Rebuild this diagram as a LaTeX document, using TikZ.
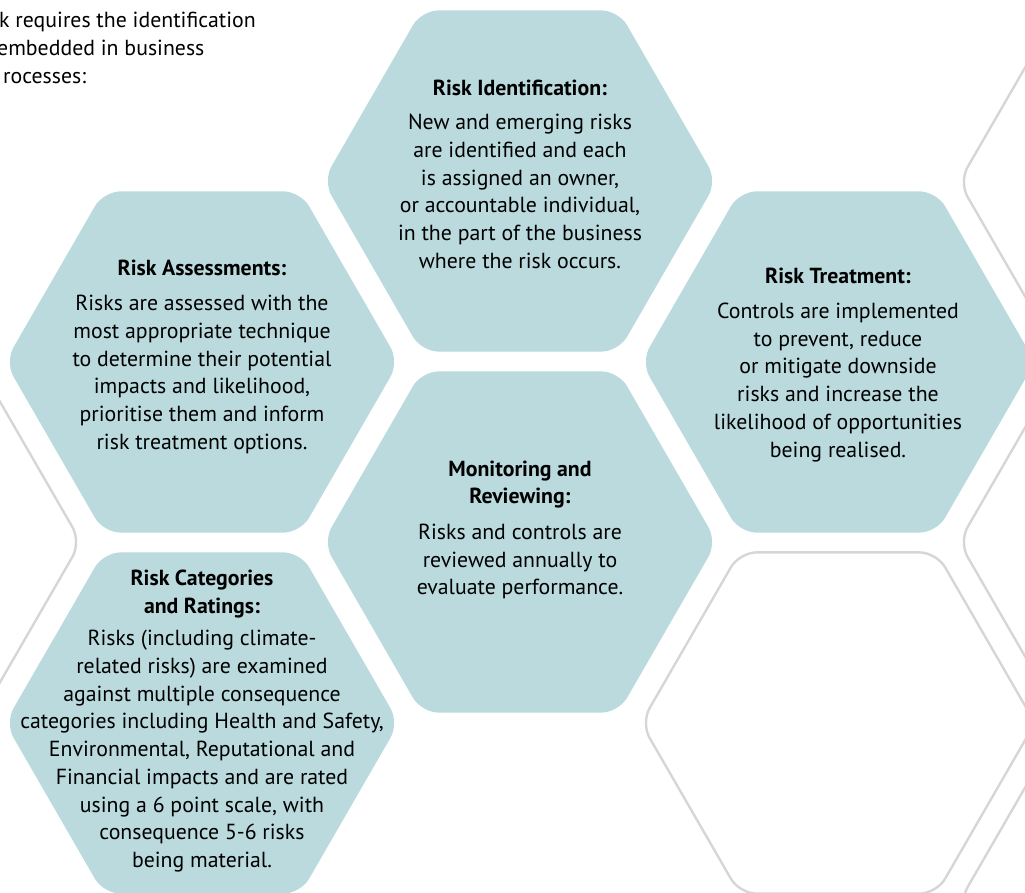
\documentclass[tikz,border=0pt]{standalone}
\usepackage{fontspec}
\setmainfont{PT Sans}
\usetikzlibrary{positioning}

\definecolor{hexteal}{RGB}{186,218,222}
\definecolor{hexgrey}{RGB}{214,214,214}

\begin{document}
\begin{tikzpicture}[
    x=1pt, y=-1pt,
    font=\fontsize{21.8}{27.7}\selectfont,
    % one style for the filled cells, one for the empty outlined ones
    hexfill/.style = {fill=hexteal, rounded corners=17pt},
    hexline/.style = {draw=hexgrey, line width=2.4pt, rounded corners=17pt},
    celltext/.style = {align=center, inner sep=0pt},
    intro/.style = {anchor=base west, inner sep=0pt},
  ]
  \useasboundingbox (0,0) rectangle (1025,893);
  \clip (0,0) rectangle (1025,893);

  %% ---------- intro text, cut at the left edge ----------
  \node[intro] (introA) at (-1,28) {k requires the identification};
  \node[intro] (introB) at (-3,56) {embedded in business};
  \node[intro] (introC) at (3,84) {rocesses:};

  %% ---------- empty outlined cells ----------
  \foreach \cx/\cy in {838/723, 1156/182, 1156/542, 1156/902, -116/542} {
    \path[hexline] (\cx,\cy) +(30:170.6) -- +(60:197) -- +(120:197) -- +(180:197)
      -- +(240:197) -- +(300:197) -- +(0:197) -- cycle;
  }

  %% ---------- filled cells ----------
  \foreach \cx/\cy in {520/181, 520/542, 202/362, 838/362, 202/723} {
    \path[hexfill] (\cx,\cy) +(30:170.6) -- +(60:197) -- +(120:197) -- +(180:197)
      -- +(240:197) -- +(300:197) -- +(0:197) -- cycle;
  }

  \node[celltext] (ident) at (520,174) {\textbf{Risk Identification:}\\[7pt]
    New and emerging risks\\ are identified and each\\ is assigned an owner,\\
    or accountable individual,\\ in the part of the business\\ where the risk occurs.};

  \node[celltext] (assess) at (202,357) {\textbf{Risk Assessments:}\\[7pt]
    Risks are assessed with the\\ most appropriate technique\\
    to determine their potential\\ impacts and likelihood,\\
    prioritise them and inform\\ risk treatment options.};

  \node[celltext] (treat) at (838,365) {\textbf{Risk Treatment:}\\[7pt]
    Controls are implemented\\ to prevent, reduce\\ or mitigate downside\\
    risks and increase the\\ likelihood of opportunities\\ being realised.};

  \node[celltext] (monitor) at (520,530) {\textbf{Monitoring and}\\ \textbf{Reviewing:}\\[8pt]
    Risks and controls are\\ reviewed annually to\\ evaluate performance.};

  \node[celltext] (categ) at (202,721) {\textbf{Risk Categories}\\ \textbf{and Ratings:}\\[5pt]
    Risks (including climate-\\ related risks) are examined\\
    against multiple consequence\\ categories including Health and Safety,\\
    Environmental, Reputational and\\ Financial impacts and are rated\\
    using a 6 point scale, with\\ consequence 5-6 risks\\ being material.};
\end{tikzpicture}
\end{document}
